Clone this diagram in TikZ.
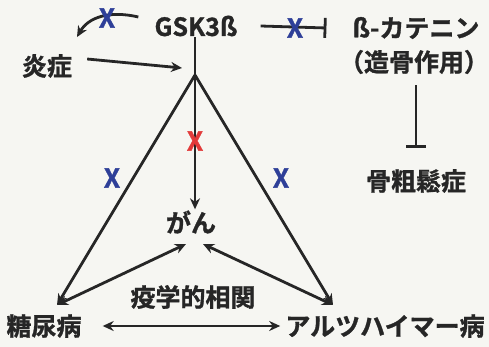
\documentclass[tikz,border=0pt]{standalone}
\usepackage{fontspec}
\setmainfont{Noto Sans CJK JP}[BoldFont={* Bold}, BoldFeatures={FakeBold=1.2}]
\usetikzlibrary{arrows.meta}
\definecolor{ink}{HTML}{262626}
\definecolor{xblue}{HTML}{2E3F98}
\definecolor{xred}{HTML}{E23A3A}
\definecolor{bg}{HTML}{F6F6F2}
\begin{document}
\begin{tikzpicture}[x=1pt,y=-1pt,
  lbl/.style={font=\fontsize{25}{25}\selectfont\bfseries, text=ink, inner sep=1pt},
  conn/.style={draw=ink, line width=2.8pt},
  arr/.style={conn, -{Stealth[length=11pt,width=10pt]}},
  darr/.style={conn, {Stealth[length=11pt,width=10pt]}-{Stealth[length=11pt,width=10pt]}},
  inh/.style={conn, -{Bar[width=20pt,line width=2.8pt]}},
  xmk/.style={font=\fontsize{26}{26}\selectfont\bfseries, inner sep=0pt}
]
\fill[bg] (0,0) rectangle (489,347);
\useasboundingbox (0,0) rectangle (489,347);

% nodes
\node[lbl] (gsk) at (196,26) {GSK3ß};
\node[lbl] (ens) at (47,66) {炎症};
\node[lbl] (cat) at (416,28) {ß-カテニン};
\node[lbl] (zou) at (414,62) {（造骨作用）};
\node[lbl] (kotsu) at (416,181) {骨粗鬆症};
\node[lbl] (gan) at (191,222) {がん};
\node[lbl] (eki) at (193,297) {疫学的相関};
\node[lbl] (tou) at (44,326) {糖尿病};
\node[lbl] (alz) at (385,326) {アルツハイマー病};

% helper points
\coordinate (split) at (195,75);
\coordinate (tl) at (57,305);
\coordinate (tr) at (333,305);
\coordinate (gl) at (186,244);
\coordinate (gr) at (203,244);
\coordinate (v1) at (182,68);

% connectors
\draw[arr] ([shift={(-15,-9)}]gsk.west) .. controls (108,10) and (88,18) .. ([shift={(30,-16)}]ens.north);
\draw[arr] ([shift={(14,-7)}]ens.east) -- (v1);
\draw[arr] (gsk.south -| split) -- (split |- gan.north);
\draw[arr] (split) -- (tl);
\draw[arr] (split) -- (tr);
\draw[darr] (tl) -- (gl);
\draw[darr] (tr) -- (gr);
\draw[darr] ([xshift=20pt]tou.east) -- ([xshift=-4pt]alz.west);
\draw[inh] ([xshift=22pt]gsk.east) -- ([xshift=-25pt]cat.west);
\draw[inh] ([yshift=-10pt]zou.south -| kotsu) -- ([yshift=20pt]kotsu.north);

% X marks
\node[xmk, text=xblue] (x1) at (107,18) {X};
\node[xmk, text=xblue] (x2) at (295,28) {X};
\node[xmk, text=xred] (x3) at (195,141) {X};
\node[xmk, text=xblue] (x4) at (112,178) {X};
\node[xmk, text=xblue] (x5) at (281,178) {X};
\end{tikzpicture}
\end{document}
